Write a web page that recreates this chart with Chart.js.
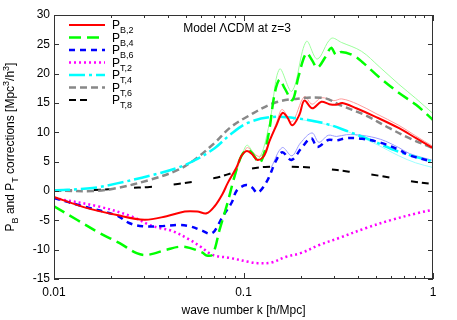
<!DOCTYPE html>
<html>
<head>
<meta charset="utf-8">
<script src="https://cdn.jsdelivr.net/npm/chart.js@4.4.0/dist/chart.umd.min.js"></script>
<style>
  html, body { margin: 0; padding: 0; background: #fff; }
  #wrap { width: 457px; height: 320px; }
</style>
</head>
<body>
<div id="wrap"><canvas id="c"></canvas></div>
<script>
// tick labels
var kTicks = [0.01, 0.1, 1];
var yTicks = [-15, -10, -5, 0, 5, 10, 15, 20, 25, 30];

// P_B,2
var kPB2 = [0.01, 0.0142, 0.0215, 0.03, 0.0393, 0.049, 0.057, 0.0639, 0.0704, 0.0775, 0.0824, 0.0918, 0.0976, 0.1037, 0.110, 0.1186, 0.129, 0.1371, 0.1492, 0.1604, 0.17, 0.1811, 0.1972, 0.2095, 0.2306, 0.2575, 0.2835, 0.3084, 0.332, 0.3936, 0.5012, 0.6622, 0.814, 1.0];
var PB2 = [-1.0, -2.7, -4.1, -4.9, -4.3, -3.5, -3.5, -3.8, -2.6, -0.5, 1.3, 4.0, 6.0, 6.8, 6.4, 5.3, 6.1, 8.5, 11.2, 13.3, 12.6, 11.2, 13.0, 15.4, 14.1, 15.2, 14.8, 14.7, 15.0, 14.1, 12.6, 10.7, 9.0, 7.3];

// P_B,4
var kPB4 = [0.01, 0.0132, 0.0175, 0.0222, 0.0273, 0.031, 0.0393, 0.046, 0.0519, 0.0608, 0.0639, 0.0687, 0.0748, 0.0824, 0.0897, 0.0976, 0.105, 0.112, 0.1214, 0.129, 0.137, 0.1456, 0.155, 0.165, 0.1811, 0.195, 0.2146, 0.23, 0.245, 0.27, 0.29, 0.308, 0.328, 0.375, 0.423, 0.52, 0.662, 0.814, 1.0];
var PB4 = [-2.6, -4.9, -7.2, -8.9, -10.6, -10.9, -10.0, -9.5, -9.7, -10.5, -11.0, -10.8, -6.6, -2.0, 2.5, 6.0, 7.0, 6.3, 4.8, 6.6, 10.5, 16.4, 19.0, 17.5, 15.5, 19.5, 23.5, 22.3, 21.0, 22.8, 24.4, 23.2, 23.7, 23.2, 22.0, 19.4, 16.7, 14.7, 12.1];

// P_B,6
var kPB6 = [0.01, 0.0142, 0.0215, 0.0251, 0.0294, 0.036, 0.046, 0.0519, 0.0608, 0.0662, 0.0704, 0.0775, 0.0865, 0.0918, 0.1, 0.105, 0.111, 0.1186, 0.1321, 0.1492, 0.1604, 0.179, 0.202, 0.2278, 0.245, 0.28, 0.3084, 0.3486, 0.423, 0.532, 0.6622, 0.7476, 1.0];
var PB6 = [-1.2, -2.6, -4.2, -5.5, -6.0, -6.0, -5.8, -6.0, -6.8, -7.3, -6.8, -4.4, -2.0, 0.0, 0.9, 1.0, 0.6, -0.3, 1.5, 5.3, 6.6, 5.3, 7.3, 9.0, 7.5, 8.7, 8.6, 9.0, 8.9, 8.2, 7.0, 6.1, 5.0];

// P_T,2
var kPT2 = [0.01, 0.0175, 0.026, 0.032, 0.036, 0.042, 0.052, 0.06, 0.0687, 0.0844, 0.1075, 0.1186, 0.14, 0.168, 0.2, 0.2512, 0.32, 0.444, 0.6085, 0.8441, 1.0];
var PT2 = [-1.2, -2.7, -4.4, -5.8, -6.3, -6.8, -8.3, -9.6, -10.9, -11.4, -12.1, -12.3, -12.2, -11.2, -10.6, -9.2, -8.0, -6.3, -4.9, -3.7, -3.2];

// P_T,4
var kPT4 = [0.01, 0.016, 0.0215, 0.032, 0.0444, 0.055, 0.0704, 0.085, 0.105, 0.14, 0.19, 0.27, 0.36, 0.46, 0.66, 1.0];
var PT4 = [0.1, 0.5, 1.3, 2.6, 3.9, 5.2, 7.3, 9.6, 11.6, 12.6, 12.4, 11.5, 10.1, 8.8, 6.7, 5.0];

// P_T,6
var kPT6 = [0.01, 0.016, 0.0215, 0.032, 0.0444, 0.055, 0.0704, 0.085, 0.105, 0.145, 0.2, 0.27, 0.32, 0.44, 0.59, 0.75, 1.0];
var PT6 = [0.1, 0.0, 0.5, 1.9, 3.5, 5.3, 8.2, 10.8, 12.7, 15.0, 15.8, 15.8, 14.7, 12.9, 10.7, 9.0, 7.3];

// P_T,8
var kPT8 = [0.01, 0.0175, 0.0242, 0.032, 0.045, 0.0704, 0.095, 0.13, 0.2, 0.27, 0.36, 0.52, 0.75, 1.0];
var PT8 = [0.0, 0.2, 0.5, 0.7, 1.2, 2.2, 3.4, 4.1, 4.1, 3.8, 3.3, 2.6, 1.7, 1.2];

// faint companion curves
var kPB4f = [0.09, 0.1, 0.105, 0.12, 0.137, 0.155, 0.18, 0.2146, 0.245, 0.29, 0.33, 0.42, 0.52, 0.66, 0.81, 1.0];
var PB4f = [2.5, 6.8, 7.8, 5.5, 11.5, 20.8, 17.0, 25.5, 22.5, 26.0, 25.3, 23.8, 21.2, 18.2, 15.8, 13.2];
var kPB2f = [0.1, 0.105, 0.12, 0.13, 0.15, 0.16, 0.18, 0.2095, 0.23, 0.2575, 0.3, 0.33, 0.4, 0.5, 0.66, 0.81, 1.0];
var PB2f = [6.2, 7.4, 5.9, 6.8, 11.8, 13.9, 11.8, 16.1, 14.8, 15.9, 15.4, 15.7, 14.8, 13.2, 11.2, 9.4, 7.6];
var kPB6f = [0.14, 0.16, 0.18, 0.2, 0.23, 0.25, 0.28, 0.31, 0.35, 0.42, 0.53, 0.66, 0.75, 1.0];
var PB6f = [4.0, 7.4, 6.0, 8.2, 9.9, 8.3, 9.5, 9.3, 9.6, 9.5, 8.8, 7.4, 6.4, 5.2];
var kPT4f = [0.2, 0.3, 0.4, 0.5, 0.66, 0.81, 1.0];
var PT4f = [12.2, 11.0, 9.4, 8.0, 6.0, 4.8, 4.0];

function pts(ks, vs) {
  return ks.map(function (k, i) { return { x: k, y: vs[i] }; });
}

var FONT = "'Liberation Sans', Arial, Helvetica, sans-serif";

var mainSets = [
  { name: "B,2", data: pts(kPB2, PB2), color: "#ff0000", dash: [], width: 2 },
  { name: "B,4", data: pts(kPB4, PB4), color: "#00ff00", dash: [12, 6], width: 2.5 },
  { name: "B,6", data: pts(kPB6, PB6), color: "#0000ff", dash: [6, 5], width: 2.5 },
  { name: "T,2", data: pts(kPT2, PT2), color: "#ff00ff", dash: [2, 3], width: 2.5 },
  { name: "T,4", data: pts(kPT4, PT4), color: "#00ffff", dash: [16, 4, 3, 4], width: 2.5 },
  { name: "T,6", data: pts(kPT6, PT6), color: "#888888", dash: [7, 4], width: 2.5 },
  { name: "T,8", data: pts(kPT8, PT8), color: "#000000", dash: [7, 4, 7, 22], width: 2 }
];

var faintSets = [
  { data: pts(kPB4f, PB4f), color: "#9cff9c" },
  { data: pts(kPB2f, PB2f), color: "#ff9c9c" },
  { data: pts(kPB6f, PB6f), color: "#9c9cff" },
  { data: pts(kPT4f, PT4f), color: "#9cffff" }
];

var datasets = mainSets.map(function (s) {
  return {
    label: "P" + s.name,
    data: s.data,
    borderColor: s.color,
    borderWidth: s.width,
    borderDash: s.dash,
    pointRadius: 0,
    tension: 0.35,
    fill: false
  };
});
faintSets.forEach(function (s) {
  datasets.push({
    label: "",
    data: s.data,
    borderColor: s.color,
    borderWidth: 1,
    pointRadius: 0,
    tension: 0.35,
    fill: false
  });
});

// frame, inward ticks, legend, titles
var decor = {
  id: "decor",
  afterDraw: function (chart) {
    var ctx = chart.ctx;
    var a = chart.chartArea;
    var xs = chart.scales.x, ys = chart.scales.y;
    ctx.save();
    ctx.strokeStyle = "#333";
    ctx.lineWidth = 1;
    ctx.setLineDash([]);
    ctx.strokeRect(a.left + 0.5, a.top + 0.5, a.right - a.left - 1, a.bottom - a.top - 1);

    ctx.beginPath();
    yTicks.forEach(function (v) {
      var y = Math.round(ys.getPixelForValue(v)) + 0.5;
      ctx.moveTo(a.left, y); ctx.lineTo(a.left + 5, y);
      ctx.moveTo(a.right, y); ctx.lineTo(a.right - 5, y);
    });
    for (var d = 0.01; d < 1.5; d *= 10) {
      for (var m = 1; m <= 9; m++) {
        var v = d * m;
        if (v > 1.0001) break;
        var x = Math.round(xs.getPixelForValue(v)) + 0.5;
        var len = m === 1 ? 6 : 3;
        ctx.moveTo(x, a.bottom); ctx.lineTo(x, a.bottom - len);
        ctx.moveTo(x, a.top); ctx.lineTo(x, a.top + len);
      }
    }
    ctx.stroke();

    // legend
    mainSets.forEach(function (s, i) {
      var y = 25 + i * 12.5;
      ctx.strokeStyle = s.color;
      ctx.lineWidth = s.width;
      ctx.setLineDash(s.dash);
      ctx.beginPath();
      ctx.moveTo(69, y); ctx.lineTo(105, y);
      ctx.stroke();
      ctx.setLineDash([]);
      ctx.fillStyle = "#000";
      ctx.textBaseline = "alphabetic";
      ctx.textAlign = "left";
      ctx.font = "12px " + FONT;
      ctx.fillText("P", 112, y + 4);
      var w = ctx.measureText("P").width;
      ctx.font = "9px " + FONT;
      ctx.fillText(s.name, 112 + w, y + 8);
    });

    // annotation
    ctx.fillStyle = "#000";
    ctx.font = "12px " + FONT;
    ctx.textAlign = "center";
    ctx.textBaseline = "middle";
    ctx.fillText("Model \u039BCDM at z=3", 237, 29);

    // y title with sub/superscripts
    var parts = [
      ["P", 0], ["B", 1], [" and P", 0], ["T", 1], [" corrections [Mpc", 0],
      ["3", -1], ["/h", 0], ["3", -1], ["]", 0]
    ];
    function partFont(p) { return (p[1] === 0 ? "12px " : "9px ") + FONT; }
    var total = 0;
    parts.forEach(function (p) { ctx.font = partFont(p); total += ctx.measureText(p[0]).width; });
    ctx.translate(14, (a.top + a.bottom) / 2);
    ctx.rotate(-Math.PI / 2);
    ctx.textAlign = "left";
    ctx.textBaseline = "alphabetic";
    var cx = -total / 2;
    parts.forEach(function (p) {
      ctx.font = partFont(p);
      var dy = p[1] === 1 ? 4 : (p[1] === -1 ? -5 : 0);
      ctx.fillText(p[0], cx, dy);
      cx += ctx.measureText(p[0]).width;
    });
    ctx.restore();
  }
};

new Chart(document.getElementById("c"), {
  type: "line",
  data: { datasets: datasets },
  options: {
    responsive: true,
    maintainAspectRatio: false,
    animation: false,
    devicePixelRatio: 1,
    layout: { padding: { left: 0, right: 24, top: 15, bottom: 0 } },
    plugins: { legend: { display: false }, tooltip: { enabled: false } },
    scales: {
      x: {
        type: "logarithmic",
        min: 0.01,
        max: 1,
        grid: { display: false, drawTicks: false },
        border: { display: false },
        afterBuildTicks: function (scale) {
          scale.ticks = kTicks.map(function (v) { return { value: v }; });
        },
        afterFit: function (scale) { scale.height = 41; },
        ticks: {
          autoSkip: false,
          maxRotation: 0,
          padding: 6,
          color: "#000",
          font: { family: FONT, size: 12 },
          callback: function (v) { return String(v); }
        },
        title: {
          display: true,
          text: "wave number k [h/Mpc]",
          color: "#000",
          font: { family: FONT, size: 12 },
          padding: { top: 0, bottom: 2 }
        }
      },
      y: {
        min: -15,
        max: 30,
        grid: { display: false, drawTicks: false },
        border: { display: false },
        afterBuildTicks: function (scale) {
          scale.ticks = yTicks.map(function (v) { return { value: v }; });
        },
        afterFit: function (scale) { scale.width = 54; },
        ticks: {
          padding: 4,
          color: "#000",
          font: { family: FONT, size: 12 }
        }
      }
    }
  },
  plugins: [decor]
});
</script>
</body>
</html>
